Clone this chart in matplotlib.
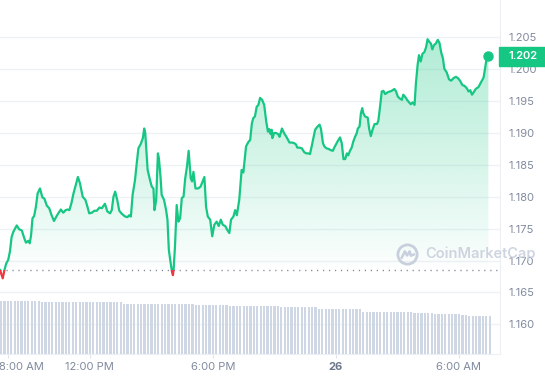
import matplotlib.pyplot as plt
import matplotlib.dates as mdates
import matplotlib.transforms as mtransforms
from matplotlib.patches import Rectangle, Circle
import numpy as np
import pandas as pd

plt.rcParams["font.family"] = ["Inter", "DejaVu Sans"]

GREEN = "#16c784"
RED = "#ea3943"
GREY = "#808a9d"

DAY = "2024-05-25"

# price, 25th 07:37 -> 26th 07:26
times = [
    "07:37", "07:45", "07:50", "07:55", "08:01", "08:06", "08:11", "08:16", "08:26", "08:33",
    "08:41", "08:48", "08:53", "09:00", "09:04", "09:08", "09:12", "09:17", "09:22", "09:27",
    "09:34", "09:41", "09:47", "09:54", "10:01", "10:08", "10:15", "10:23", "10:35", "10:42",
    "10:49", "10:55", "11:00", "11:06", "11:12", "11:20", "11:25", "11:31", "11:39", "11:47",
    "11:53", "11:58", "12:06", "12:13", "12:20", "12:28", "12:35", "12:44", "12:51", "12:59",
    "13:04", "13:09", "13:14", "13:20", "13:26", "13:34", "13:43", "13:50", "13:55", "14:00",
    "14:05", "14:12", "14:17", "14:22", "14:29", "14:35", "14:39", "14:42", "14:46", "14:49",
    "14:56", "15:01", "15:06", "15:09", "15:14", "15:19", "15:22", "15:27", "15:30", "15:37",
    "15:43", "15:47", "15:51", "15:55", "16:00", "16:03", "16:05", "16:09", "16:14", "16:19",
    "16:24", "16:29", "16:34", "16:39", "16:44", "16:49", "16:55", "16:59", "17:03", "17:09",
    "17:17", "17:24", "17:30", "17:35", "17:40", "17:45", "17:52", "17:58", "18:04", "18:11",
    "18:17", "18:23", "18:29", "18:36", "18:42", "18:48", "18:53", "19:00", "19:05", "19:10",
    "19:17", "19:24", "19:29", "19:37", "19:44", "19:49", "19:54", "19:58", "20:03", "20:08",
    "20:13", "20:18", "20:24", "20:30", "20:36", "20:41", "20:45", "20:49", "20:52", "20:54",
    "20:59", "21:05", "21:11", "21:15", "21:22", "21:28", "21:36", "21:44", "21:51", "21:58",
    "22:03", "22:07", "22:13", "22:20", "22:27", "22:33", "22:39", "22:44", "22:49", "22:54",
    "22:59", "23:06", "23:12", "23:16", "23:22", "23:26", "23:32", "23:38", "23:45", "23:51",
    "23:55", "00:00", "00:05", "00:12", "00:17", "00:22", "00:27", "00:32", "00:36", "00:41",
    "00:46", "00:51", "00:56", "01:01", "01:04", "01:09", "01:13", "01:17", "01:20", "01:25",
    "01:33", "01:37", "01:42", "01:47", "01:53", "02:00", "02:04", "02:09", "02:14", "02:19",
    "02:24", "02:32", "02:38", "02:43", "02:51", "02:56", "03:01", "03:07", "03:13", "03:17",
    "03:22", "03:28", "03:34", "03:39", "03:44", "03:50", "03:54", "03:59", "04:03", "04:08",
    "04:13", "04:19", "04:24", "04:28", "04:33", "04:38", "04:42", "04:47", "04:52", "04:58",
    "05:03", "05:08", "05:13", "05:17", "05:24", "05:31", "05:37", "05:44", "05:51", "05:57",
    "06:03", "06:10", "06:16", "06:23", "06:28", "06:33", "06:38", "06:42", "06:49", "06:57",
    "07:05", "07:12", "07:17", "07:21", "07:26",
]
prices = [
    1.1685, 1.1672, 1.1685, 1.1695, 1.1701, 1.1714, 1.1737, 1.1745, 1.1755, 1.1749,
    1.1747, 1.1735, 1.1728, 1.1731, 1.1727, 1.1740, 1.1766, 1.1770, 1.1784, 1.1805,
    1.1813, 1.1799, 1.1797, 1.1786, 1.1782, 1.1771, 1.1762, 1.1770, 1.1780, 1.1775,
    1.1779, 1.1780, 1.1779, 1.1790, 1.1805, 1.1821, 1.1831, 1.1821, 1.1800, 1.1795,
    1.1784, 1.1774, 1.1775, 1.1778, 1.1778, 1.1783, 1.1782, 1.1789, 1.1777, 1.1774,
    1.1779, 1.1800, 1.1808, 1.1795, 1.1778, 1.1773, 1.1769, 1.1768, 1.1771, 1.1769,
    1.1803, 1.1826, 1.1852, 1.1876, 1.1883, 1.1892, 1.1907, 1.1900, 1.1868, 1.1842,
    1.1826, 1.1816, 1.1813, 1.1779, 1.1795, 1.1868, 1.1860, 1.1829, 1.1803, 1.1795,
    1.1779, 1.1764, 1.1717, 1.1701, 1.1683, 1.1677, 1.1686, 1.1722, 1.1787, 1.1761,
    1.1766, 1.1798, 1.1800, 1.1829, 1.1847, 1.1872, 1.1829, 1.1824, 1.1839, 1.1813,
    1.1813, 1.1816, 1.1824, 1.1831, 1.1784, 1.1769, 1.1764, 1.1738, 1.1756, 1.1761,
    1.1754, 1.1764, 1.1756, 1.1754, 1.1748, 1.1743, 1.1764, 1.1769, 1.1779, 1.1771,
    1.1795, 1.1842, 1.1838, 1.1879, 1.1886, 1.1889, 1.1915, 1.1923, 1.1926, 1.1941,
    1.1944, 1.1955, 1.1952, 1.1944, 1.1918, 1.1902, 1.1906, 1.1898, 1.1905, 1.1892,
    1.1900, 1.1900, 1.1898, 1.1894, 1.1907, 1.1900, 1.1893, 1.1885, 1.1885, 1.1884,
    1.1882, 1.1877, 1.1877, 1.1876, 1.1870, 1.1868, 1.1868, 1.1867, 1.1879, 1.1892,
    1.1905, 1.1910, 1.1913, 1.1907, 1.1884, 1.1879, 1.1876, 1.1875, 1.1873, 1.1872,
    1.1877, 1.1882, 1.1887, 1.1893, 1.1884, 1.1859, 1.1859, 1.1868, 1.1865, 1.1872,
    1.1877, 1.1887, 1.1894, 1.1900, 1.1907, 1.1910, 1.1931, 1.1939, 1.1931, 1.1926,
    1.1924, 1.1907, 1.1895, 1.1905, 1.1914, 1.1914, 1.1919, 1.1941, 1.1965, 1.1966,
    1.1961, 1.1964, 1.1965, 1.1966, 1.1969, 1.1965, 1.1957, 1.1954, 1.1952, 1.1960,
    1.1957, 1.1952, 1.1948, 1.1945, 1.1948, 1.1944, 1.1978, 1.2007, 1.2022, 1.2012,
    1.2024, 1.2027, 1.2035, 1.2047, 1.2043, 1.2040, 1.2031, 1.2038, 1.2040, 1.2046,
    1.2041, 1.2026, 1.2017, 1.2001, 1.1995, 1.1984, 1.1982, 1.1986, 1.1988, 1.1986,
    1.1982, 1.1975, 1.1974, 1.1970, 1.1965, 1.1967, 1.1960, 1.1963, 1.1969, 1.1972,
    1.1980, 1.1987, 1.2004, 1.2017, 1.2020,
]

# 24h volume bars (millions), every 10 min from 07:40
volumes = [
    533, 533, 533, 533, 533, 533, 533, 533, 533, 533, 533, 533,
    525, 525, 525, 525, 525, 525, 525, 525, 525, 525, 525, 525,
    525, 525, 518, 518, 518, 518, 518, 518, 518, 518, 518, 518,
    505, 505, 505, 505, 505, 505, 505, 505, 505, 505, 505, 505,
    500, 500, 500, 500, 500, 500, 500, 500, 500, 493, 493, 493,
    493, 493, 493, 493, 493, 493, 493, 485, 485, 485, 485, 485,
    485, 485, 485, 485, 485, 485, 485, 485, 485, 485, 467, 467,
    467, 467, 467, 467, 467, 467, 467, 467, 467, 450, 450, 450,
    450, 450, 450, 450, 450, 450, 450, 450, 450, 450, 423, 423,
    423, 423, 423, 423, 423, 423, 423, 423, 423, 423, 423, 423,
    423, 413, 413, 413, 413, 413, 413, 400, 400, 400, 400, 400,
    400, 400, 400, 390, 390, 380, 380, 380, 380, 380, 380, 380,
]

y_ticks = [1.160, 1.165, 1.170, 1.175, 1.180, 1.185, 1.190, 1.195, 1.200, 1.205]
x_ticks = ["2024-05-25 08:00", "2024-05-25 12:00", "2024-05-25 18:00",
           "2024-05-26 00:00", "2024-05-26 06:00"]
x_labels = ["8:00 AM", "12:00 PM", "6:00 PM", "26", "6:00 AM"]


def to_stamps(hhmm_list, day):
    stamps = []
    base = pd.Timestamp(day)
    prev = None
    for s in hhmm_list:
        ts = base + pd.Timedelta(hours=int(s[:2]), minutes=int(s[3:]))
        if prev is not None and ts < prev:
            base += pd.Timedelta(days=1)
            ts += pd.Timedelta(days=1)
        stamps.append(ts)
        prev = ts
    return stamps


x = mdates.date2num(to_stamps(times, DAY))
p = np.array(prices)
baseline = prices[0]
x_min = mdates.date2num(pd.Timestamp("2024-05-25 07:37"))
x_max = mdates.date2num(pd.Timestamp("2024-05-26 08:00"))
y_min, y_max = 1.15534, 1.21085

W, H = 545, 380
fig = plt.figure(figsize=(W / 100, H / 100), dpi=100)
rect = [0, 26 / H, 500 / W, 354 / H]
ax = fig.add_axes(rect)
ax_vol = fig.add_axes(rect)
ax_vol.patch.set_visible(False)

# price axis
ax.set_xlim(x_min, x_max)
ax.set_ylim(y_min, y_max)
for yt in y_ticks:
    ax.axhline(yt, color="#eff2f5", lw=1, zorder=0)

ax.axhline(baseline, color=GREY, lw=1, ls=(0, (0.9, 3.4)), zorder=1)

# gradient fill above baseline
poly = ax.fill_between(x, p, baseline, color="none", lw=0)
frac = np.linspace(0, 1, 256).reshape(-1, 1)
rgba = np.zeros((256, 1, 4))
rgba[..., :3] = (22 / 255, 199 / 255, 132 / 255)
rgba[..., 3] = 0.38 * frac ** 0.85
im = ax.imshow(rgba, extent=(x[0], x[-1], baseline, y_max), origin="lower",
               aspect="auto", interpolation="bilinear", zorder=1)
im.set_clip_path(poly.get_paths()[0], ax.transData)

# line: green above baseline, red below
big = 1.0
up_clip = Rectangle((x_min, baseline), x_max - x_min, big, transform=ax.transData)
dn_clip = Rectangle((x_min, baseline - big), x_max - x_min, big, transform=ax.transData)
lg, = ax.plot(x, p, color=GREEN, lw=1.6, zorder=3, solid_joinstyle="round")
lg.set_clip_path(up_clip)
lr, = ax.plot(x, p, color=RED, lw=1.6, zorder=3, solid_joinstyle="round")
lr.set_clip_path(dn_clip)
ax.plot(x[-1], p[-1], "o", color=GREEN, ms=6.5, zorder=4, clip_on=False)

# axes styling
for side in ["top", "left"]:
    ax.spines[side].set_visible(False)
ax.spines["right"].set_color("#eceff3")
ax.spines["bottom"].set_color("#eceff3")
ax.yaxis.tick_right()
ax.set_yticks(y_ticks)
ax.set_yticklabels([f"{v:.3f}" for v in y_ticks])
ax.tick_params(axis="y", length=0, pad=6.3, labelsize=8, labelcolor=GREY)
ax.set_xticks(mdates.date2num(pd.to_datetime(x_ticks)))
ax.set_xticklabels(x_labels)
ax.tick_params(axis="x", length=3, width=0.8, color="#e3e6eb", pad=3,
               labelsize=8, labelcolor=GREY)
for lab in ax.get_xticklabels():
    if lab.get_text() == "26":
        lab.set_fontweight("bold")
        lab.set_color("#6c778b")
# first label is pushed inside the chart, like the site does
first = ax.get_xticklabels()[0]
first.set_horizontalalignment("left")
first.set_transform(first.get_transform()
                    + mtransforms.ScaledTranslation(-9 / 100, 0, fig.dpi_scale_trans))

# current price tag
tag_tf = mtransforms.blended_transform_factory(fig.transFigure, ax.transData)
tag_h = 19 / 354 * (y_max - y_min)
ax.add_patch(Rectangle((499 / W, p[-1] - tag_h / 2), 1 - 499 / W, tag_h,
                       transform=tag_tf, color=GREEN, clip_on=False, zorder=10))
ax.text(508 / W, p[-1], f"{p[-1]:.3f}", transform=tag_tf, color="white",
        fontsize=8, fontweight="semibold", va="center", ha="left",
        clip_on=False, zorder=11)

# volume bars
vol_t = pd.date_range("2024-05-25 07:40", periods=len(volumes), freq="10min")
ax_vol.bar(mdates.date2num(vol_t), volumes, width=6.5 / 1440, color="#cfd6e4", lw=0)
ax_vol.set_xlim(x_min, x_max)
ax_vol.set_ylim(0, max(volumes) * 354 / 53.3)
ax_vol.axis("off")

# watermark
fig.text(425 / W, 1 - 254 / H, "CoinMarketCap", fontsize=10.5, fontweight="semibold",
         color="#c9d0dd", va="center", ha="left", alpha=0.9)
logo = fig.add_axes([396 / W, 1 - 266 / H, 23 / W, 23 / H])
logo.set_xlim(-1.1, 1.1)
logo.set_ylim(-1.1, 1.1)
logo.set_aspect("equal")
logo.axis("off")
logo.add_patch(Circle((0, 0), 0.92, fill=False, lw=2, ec="#c9d0dd"))
logo.plot([-0.55, -0.25, -0.05, 0.2, 0.32, 0.6], [-0.3, 0.3, -0.1, 0.3, -0.12, 0.0],
          color="#c9d0dd", lw=1.8, solid_joinstyle="round")

fig.savefig("out.png", dpi=100)
